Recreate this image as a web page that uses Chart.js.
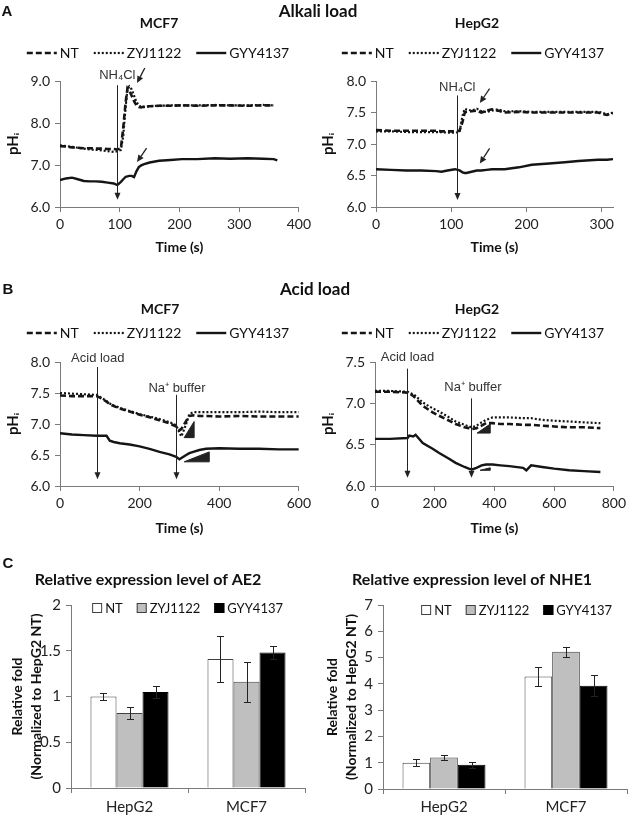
<!DOCTYPE html>
<html><head><meta charset="utf-8">
<script src="https://cdn.jsdelivr.net/npm/chart.js@4.4.1/dist/chart.umd.min.js"></script>
<style>
html,body{margin:0;padding:0;width:630px;height:818px;overflow:hidden;background:#fff;}
canvas{position:absolute;}
.t{position:absolute;transform:translate(-50%,-50%);white-space:nowrap;color:#111;font-weight:bold;z-index:2;}
</style></head><body>
<canvas id="aMcf" width="315" height="256" style="left:0;top:0"></canvas>
<canvas id="aHep" width="315" height="256" style="left:315px;top:0"></canvas>
<canvas id="bMcf" width="315" height="256" style="left:0;top:281px"></canvas>
<canvas id="bHep" width="315" height="256" style="left:315px;top:281px"></canvas>
<canvas id="cAe2" width="325" height="258" style="left:-10px;top:560px"></canvas>
<canvas id="cNhe" width="315" height="258" style="left:315px;top:560px"></canvas>
<div class="t" style="left:7px;top:10px;font:bold 15px 'Liberation Sans',Arial,sans-serif">A</div>
<div class="t" style="left:318px;top:10px;font:bold 17px Lato,sans-serif">Alkali load</div>
<div class="t" style="left:8px;top:288px;font:bold 15px 'Liberation Sans',Arial,sans-serif">B</div>
<div class="t" style="left:315px;top:288px;font:bold 17px Lato,sans-serif">Acid load</div>
<div class="t" style="left:8px;top:562px;font:bold 15px 'Liberation Sans',Arial,sans-serif">C</div>
<script>
// ---------------- DATA ----------------
const seriesLabels = ['NT', 'ZYJ1122', 'GYY4137'];

// A: alkali load, MCF7
const aMcfTime = [0,10,20,30,40,50,60,70,80,90,96,102,106,110,113,116,120,124,128,132,136,141,150,166,185,204,230,259,285,314,340,358,364];
const aMcfNT  = [7.45,7.44,7.42,7.41,7.40,7.40,7.39,7.39,7.38,7.38,7.37,7.40,7.90,8.50,8.83,8.78,8.65,8.52,8.42,8.38,8.37,8.39,8.40,8.41,8.41,8.42,8.41,8.42,8.42,8.41,8.42,8.42,null];
const aMcfZYJ = [7.47,7.45,7.43,7.41,7.39,7.37,7.36,7.35,7.33,7.31,7.33,7.36,7.70,8.40,8.80,8.87,8.80,8.65,8.50,8.42,8.38,8.38,8.40,8.41,8.42,8.42,8.42,8.43,8.42,8.42,8.43,8.42,null];
const aMcfGYY = [6.64,6.68,6.70,6.66,6.62,6.61,6.61,6.60,6.58,6.56,6.52,6.60,6.66,6.72,6.73,6.74,6.74,6.71,6.85,6.95,6.99,7.02,7.06,7.10,7.12,7.14,7.14,7.16,7.15,7.16,7.15,7.14,7.11];
const aMcfEvents = [[96, 8.9, 6.17, 'NH₄Cl', 96, 9.14]];
const aMcfPointers = [[142, 9.31, 129, 8.95], [145, 7.40, 129, 7.07]];

// A: alkali load, HepG2
const aHepTime = [0,20,40,60,80,87,95,105,111,115,118,120,127,134,140,147,154,162,171,190,207,230,251,269,295,300,307,315];
const aHepNT  = [7.22,7.21,7.21,7.21,7.21,7.20,7.20,7.20,7.21,7.35,7.50,7.51,7.52,7.53,7.50,7.53,7.55,7.53,7.50,7.51,7.50,7.50,7.50,7.50,7.50,7.48,7.46,7.49];
const aHepZYJ = [7.20,7.20,7.19,7.19,7.19,7.19,7.18,7.18,7.19,7.45,7.56,7.55,7.53,7.56,7.52,7.51,7.53,7.55,7.52,7.52,7.51,7.51,7.51,7.51,7.51,7.50,7.47,7.50];
const aHepGYY = [6.60,6.59,6.58,6.58,6.57,6.56,6.58,6.60,6.58,6.55,6.54,6.54,6.56,6.58,6.58,6.59,6.60,6.60,6.60,6.63,6.67,6.69,6.71,6.73,6.75,6.75,6.75,6.76];
const aHepEvents = [[107, 7.77, 6.11, 'NH₄Cl', 108, 7.9]];
const aHepPointers = [[151, 7.88, 138, 7.65], [151, 6.93, 138, 6.69]];

// B: acid load, MCF7
const bMcfTime = [0,30,60,92,105,117,125,135,150,175,200,225,250,275,292,300,305,317,325,335,350,367,400,450,500,550,600];
const bMcfNT  = [7.46,7.45,7.45,7.45,7.41,7.36,7.32,7.29,7.25,7.20,7.15,7.11,7.06,7.01,6.96,6.90,6.92,7.05,7.13,7.14,7.13,7.13,7.12,7.13,7.12,7.12,7.12];
const bMcfZYJ = [7.50,7.49,7.48,7.47,7.42,7.37,7.33,7.30,7.26,7.21,7.16,7.12,7.08,7.03,6.98,6.86,6.80,7.00,7.16,7.19,7.19,7.19,7.19,7.19,7.20,7.19,7.19];
const bMcfGYY = [6.85,6.83,6.82,6.81,6.81,6.81,6.73,6.71,6.69,6.67,6.64,6.60,6.55,6.51,6.47,6.43,6.45,6.50,6.53,6.55,6.58,6.60,6.61,6.60,6.60,6.59,6.59];
const bMcfEvents = [[92, 7.92, 6.11, 'Acid load', 95, 8.06], [292, 7.47, 6.11, 'Na⁺ buffer', 294, 7.58]];
const bMcfWedges = [[312, 6.78, 337, 7.04], [312, 6.39, 375, 6.55]];

// B: acid load, HepG2
const bHepTime = [0,50,109,115,128,136,160,193,215,248,270,300,314,325,340,357,372,394,420,450,496,507,523,560,600,650,700,755];
const bHepNT  = [7.14,7.14,7.13,7.12,7.09,7.06,6.97,6.89,6.85,6.79,6.75,6.71,6.70,6.69,6.70,6.73,6.76,6.76,6.75,6.75,6.74,6.74,6.74,6.73,6.72,6.71,6.71,6.70];
const bHepZYJ = [7.15,7.15,7.14,7.13,7.11,7.09,7.01,6.94,6.90,6.83,6.78,6.74,6.72,6.71,6.73,6.77,6.80,6.83,6.83,6.83,6.82,6.82,6.82,6.80,6.79,6.78,6.77,6.76];
const bHepGYY = [6.57,6.57,6.58,6.61,6.60,6.62,6.52,6.45,6.40,6.33,6.28,6.23,6.21,6.20,6.22,6.25,6.26,6.26,6.25,6.24,6.22,6.19,6.25,6.23,6.21,6.19,6.18,6.17];
const bHepEvents = [[108, 7.42, 6.10, 'Acid load', 109, 7.55], [323, 7.06, 6.10, 'Na⁺ buffer', 328, 7.19]];
const bHepWedges = [[342, 6.64, 386, 6.75], [352, 6.19, 386, 6.22]];

// C: relative expression
const cellLines = ['HepG2', 'MCF7'];
const ae2NT  = [1.00, 1.41], ae2NTErr  = [0.035, 0.25];
const ae2ZYJ = [0.82, 1.16], ae2ZYJErr = [0.065, 0.215];
const ae2GYY = [1.05, 1.48], ae2GYYErr = [0.07, 0.068];
const nhe1NT  = [1.00, 4.28], nhe1NTErr  = [0.14, 0.37];
const nhe1ZYJ = [1.20, 5.22], nhe1ZYJErr = [0.09, 0.18];
const nhe1GYY = [0.92, 3.93], nhe1GYYErr = [0.11, 0.39];

// ---------------- RENDERING ----------------
Chart.defaults.font.family = 'Lato, "Liberation Sans", sans-serif';
Chart.defaults.color = '#222';

const INK = '#151515';
const AXIS = '#7a7a7a';

function head(ctx, x1, y1, x2, y2, len, half) {
  const a = Math.atan2(y2 - y1, x2 - x1);
  const bx = x2 - len * Math.cos(a), by = y2 - len * Math.sin(a);
  const nx = -Math.sin(a) * half, ny = Math.cos(a) * half;
  ctx.beginPath();
  ctx.moveTo(x2, y2);
  ctx.lineTo(bx + nx, by + ny);
  ctx.lineTo(bx - nx, by - ny);
  ctx.closePath();
  ctx.fill();
  return [bx, by];
}

function lineLegend(cy, cx) {
  return {
    id: 'lineLegend',
    afterDraw(chart) {
      const ctx = chart.ctx;
      ctx.save();
      ctx.font = '14px Lato, sans-serif';
      ctx.textBaseline = 'middle';
      const sw = 30, gap = 3, sp = 15;
      const items = chart.data.datasets.map(d => ({d, w: sw + gap + ctx.measureText(d.label).width}));
      const total = items.reduce((s, i) => s + i.w, 0) + sp * (items.length - 1);
      let x0 = cx - total / 2;
      items.forEach(({d, w}) => {
        ctx.strokeStyle = d.borderColor;
        ctx.lineWidth = d.borderWidth;
        ctx.setLineDash(d.borderDash || []);
        ctx.beginPath(); ctx.moveTo(x0, cy); ctx.lineTo(x0 + sw, cy); ctx.stroke();
        ctx.setLineDash([]);
        ctx.fillStyle = '#111';
        ctx.fillText(d.label, x0 + sw + gap, cy + 0.5);
        x0 += w + sp;
      });
      ctx.restore();
    }
  };
}

function marks(events, pointers, wedges) {
  return {
    id: 'marks',
    afterDatasetsDraw(chart) {
      const {ctx} = chart;
      const x = chart.scales.x, y = chart.scales.y;
      ctx.save();
      ctx.strokeStyle = '#222'; ctx.fillStyle = '#222';
      events.forEach(([t, top, bot, text, lt, ly]) => {
        const px = Math.round(x.getPixelForValue(t)) + 0.5;
        const y1 = y.getPixelForValue(top), y2 = y.getPixelForValue(bot);
        const [, by] = head(ctx, px, y1, px, y2, 7, 3);
        ctx.lineWidth = 1;
        ctx.beginPath(); ctx.moveTo(px, y1); ctx.lineTo(px, by + 1); ctx.stroke();
        ctx.font = '13px "Liberation Sans", Arial, sans-serif';
        ctx.textAlign = 'center'; ctx.textBaseline = 'middle';
        ctx.fillStyle = '#333';
        ctx.fillText(text, x.getPixelForValue(lt), y.getPixelForValue(ly));
        ctx.fillStyle = '#222';
      });
      pointers.forEach(([t1, v1, t2, v2]) => {
        const x1 = x.getPixelForValue(t1), y1 = y.getPixelForValue(v1);
        const x2 = x.getPixelForValue(t2), y2 = y.getPixelForValue(v2);
        const [bx, by] = head(ctx, x1, y1, x2, y2, 7, 3.2);
        ctx.lineWidth = 1.3;
        ctx.beginPath(); ctx.moveTo(x1, y1); ctx.lineTo(bx, by); ctx.stroke();
      });
      wedges.forEach(([t1, v1, t2, v2]) => {
        const x1 = x.getPixelForValue(t1), y1 = y.getPixelForValue(v1);
        const x2 = x.getPixelForValue(t2), y2 = y.getPixelForValue(v2);
        ctx.beginPath();
        ctx.moveTo(x1, y1); ctx.lineTo(x2, y1); ctx.lineTo(x2, y2); ctx.closePath();
        ctx.fill();
        ctx.lineWidth = 1; ctx.stroke();
      });
      ctx.restore();
    }
  };
}

function makeLine(id, p) {
  const pts = arr => p.time.map((t, i) => ({x: t, y: arr[i]}));
  const datasets = [
    {label: seriesLabels[0], data: pts(p.nt),  borderColor: INK, borderWidth: 2.6, borderDash: [6, 3]},
    {label: seriesLabels[1], data: pts(p.zyj), borderColor: INK, borderWidth: 2.2, borderDash: [2, 2]},
    {label: seriesLabels[2], data: pts(p.gyy), borderColor: INK, borderWidth: 2.4, borderDash: []}
  ];
  const H = 256;
  new Chart(document.getElementById(id), {
    type: 'line',
    data: {datasets},
    options: {
      responsive: false, animation: false, devicePixelRatio: 1,
      elements: {point: {radius: 0}, line: {tension: 0, fill: false}},
      layout: {padding: {left: p.L, right: p.R, top: 0, bottom: 0}},
      plugins: {
        legend: {display: false},
        tooltip: {enabled: false},
        title: {display: true, text: p.title, color: '#111',
          font: {size: 14, weight: 'bold'}, padding: {top: p.tT, bottom: p.tB}}
      },
      scales: {
        x: {
          type: 'linear', min: 0, max: p.xMax,
          afterFit: s => { s.height = H - p.bottom; },
          ticks: {stepSize: p.xStep, includeBounds: false, padding: 4, font: {size: 14}, color: '#222'},
          grid: {drawOnChartArea: false, tickLength: 5, color: AXIS},
          border: {color: AXIS},
          title: {display: true, text: 'Time (s)', color: '#111', font: {size: 14, weight: 'bold'}, padding: {top: 0, bottom: 0.6}}
        },
        y: {
          min: p.yMin, max: p.yMax,
          afterFit: s => { s.width = p.yW; },
          ticks: {stepSize: p.yStep, padding: 5, font: {size: 14}, color: '#222', callback: v => Number(v).toFixed(1)},
          grid: {drawOnChartArea: false, tickLength: 5, color: AXIS},
          border: {color: AXIS},
          title: {display: true, text: 'pHᵢ', color: '#111', font: {size: 15, weight: 'bold'}, padding: {top: p.yTp, bottom: 0}}
        }
      }
    },
    plugins: [lineLegend(p.legY, 158), marks(p.events || [], p.pointers || [], p.wedges || [])]
  });
}

makeLine('aMcf', {title: 'MCF7', time: aMcfTime, nt: aMcfNT, zyj: aMcfZYJ, gyy: aMcfGYY,
  xMax: 400, xStep: 100, yMin: 6, yMax: 9, yStep: 1,
  L: 16, R: 13, yW: 44, yTp: -12, tT: 14.6, tB: 49.6, bottom: 207, legY: 53,
  events: aMcfEvents, pointers: aMcfPointers});
makeLine('aHep', {title: 'HepG2', time: aHepTime, nt: aHepNT, zyj: aHepZYJ, gyy: aHepGYY,
  xMax: 315, xStep: 100, yMin: 6, yMax: 8, yStep: 0.5,
  L: 26, R: 17, yW: 35, yTp: -22, tT: 14.6, tB: 49.6, bottom: 207, legY: 53,
  events: aHepEvents, pointers: aHepPointers});
makeLine('bMcf', {title: 'MCF7', time: bMcfTime, nt: bMcfNT, zyj: bMcfZYJ, gyy: bMcfGYY,
  xMax: 600, xStep: 200, yMin: 6, yMax: 8, yStep: 0.5,
  L: 20, R: 15, yW: 40, yTp: -15.4, tT: 19.6, tB: 44.6, bottom: 205, legY: 52,
  events: bMcfEvents, wedges: bMcfWedges});
makeLine('bHep', {title: 'HepG2', time: bHepTime, nt: bHepNT, zyj: bHepZYJ, gyy: bHepGYY,
  xMax: 800, xStep: 200, yMin: 6, yMax: 7.5, yStep: 0.5,
  L: 22, R: 13, yW: 38, yTp: -17.4, tT: 19.6, tB: 44.6, bottom: 205, legY: 52,
  events: bHepEvents, wedges: bHepWedges});

function barLegend(dy, rightX) {
  return {
    id: 'barLegend',
    afterDraw(chart) {
      const ctx = chart.ctx;
      ctx.save();
      ctx.font = '13px Lato, sans-serif';
      ctx.textBaseline = 'middle';
      const bs = 10, gap = 3, sp = 14;
      const items = chart.data.datasets.map(d => ({d, w: bs + gap + ctx.measureText(d.label).width}));
      const total = items.reduce((s, i) => s + i.w, 0) + sp * (items.length - 1);
      let x0 = rightX - total;
      const cy = chart.chartArea.top + dy;
      items.forEach(({d, w}) => {
        ctx.fillStyle = d.backgroundColor;
        ctx.fillRect(x0, cy - bs / 2, bs, bs);
        ctx.strokeStyle = d.borderColor; ctx.lineWidth = 1;
        ctx.strokeRect(x0 + 0.5, cy - bs / 2 + 0.5, bs - 1, bs - 1);
        ctx.fillStyle = '#111';
        ctx.fillText(d.label, x0 + bs + gap, cy + 0.5);
        x0 += w + sp;
      });
      ctx.restore();
    }
  };
}

function errorBars(errs) {
  return {
    id: 'errorBars',
    afterDatasetsDraw(chart) {
      const {ctx} = chart; const y = chart.scales.y;
      ctx.save();
      ctx.strokeStyle = '#222'; ctx.lineWidth = 1;
      chart.data.datasets.forEach((d, di) => {
        chart.getDatasetMeta(di).data.forEach((bar, i) => {
          const v = d.data[i], e = errs[di][i];
          const yt = Math.round(y.getPixelForValue(v + e)) + 0.5, yb = Math.round(y.getPixelForValue(v - e)) + 0.5;
          const x = Math.round(bar.x) + 0.5;
          ctx.beginPath();
          ctx.moveTo(x, yt); ctx.lineTo(x, yb);
          ctx.moveTo(x - 3.5, yt); ctx.lineTo(x + 3.5, yt);
          ctx.moveTo(x - 3.5, yb); ctx.lineTo(x + 3.5, yb);
          ctx.stroke();
        });
      });
      ctx.restore();
    }
  };
}

function makeBar(id, p) {
  const datasets = [
    {label: seriesLabels[0], data: p.nt,  backgroundColor: '#ffffff', borderColor: '#404040', borderWidth: 1},
    {label: seriesLabels[1], data: p.zyj, backgroundColor: '#bfbfbf', borderColor: '#404040', borderWidth: 1},
    {label: seriesLabels[2], data: p.gyy, backgroundColor: '#000000', borderColor: '#000000', borderWidth: 1}
  ];
  const H = 258;
  new Chart(document.getElementById(id), {
    type: 'bar',
    data: {labels: cellLines, datasets},
    options: {
      responsive: false, animation: false, devicePixelRatio: 1,
      datasets: {bar: {categoryPercentage: p.cp, barPercentage: 1}},
      layout: {padding: {left: p.L, right: p.R, top: 0, bottom: 0}},
      plugins: {
        legend: {display: false},
        tooltip: {enabled: false},
        title: {display: true, text: p.title, color: '#111',
          font: {size: 16, weight: 'bold'}, padding: {top: 10.4, bottom: 15.4}}
      },
      scales: {
        x: {
          afterFit: s => { s.height = H - p.bottom; },
          ticks: {padding: p.xPad, font: {size: 15}, color: '#222'},
          grid: {drawOnChartArea: false, tickLength: 5, color: AXIS, offset: true},
          border: {color: AXIS}
        },
        y: {
          min: 0, max: p.yMax,
          afterFit: s => { s.width = p.yW; },
          ticks: {stepSize: p.yStep, padding: 5, font: {size: 15}, color: '#222', callback: v => String(Number(v))},
          grid: {drawOnChartArea: false, tickLength: 5, color: AXIS},
          border: {color: AXIS},
          title: {display: true, text: ['Relative fold', '(Normalized to HepG2 NT)'], color: '#111',
            font: {size: 14, weight: 'bold', lineHeight: 1.35}, padding: {top: p.yTp, bottom: 0}}
        }
      }
    },
    plugins: [barLegend(p.legDy, p.legRight), errorBars(p.errs)]
  });
}

makeBar('cAe2', {title: 'Relative expression level of AE2', nt: ae2NT, zyj: ae2ZYJ, gyy: ae2GYY,
  errs: [ae2NTErr, ae2ZYJErr, ae2GYYErr], yMax: 2, yStep: 0.5, cp: 0.667,
  L: 1, R: 10, yW: 80, yTp: 17.5, bottom: 228, xPad: 5, legDy: 3, legRight: 293});
makeBar('cNhe', {title: 'Relative expression level of NHE1', nt: nhe1NT, zyj: nhe1ZYJ, gyy: nhe1GYY,
  errs: [nhe1NTErr, nhe1ZYJErr, nhe1GYYErr], yMax: 7, yStep: 1, cp: 0.68,
  L: 2, R: 3, yW: 66, yTp: 6.5, bottom: 229, xPad: 4, legDy: 5, legRight: 297});
</script>
</body></html>
